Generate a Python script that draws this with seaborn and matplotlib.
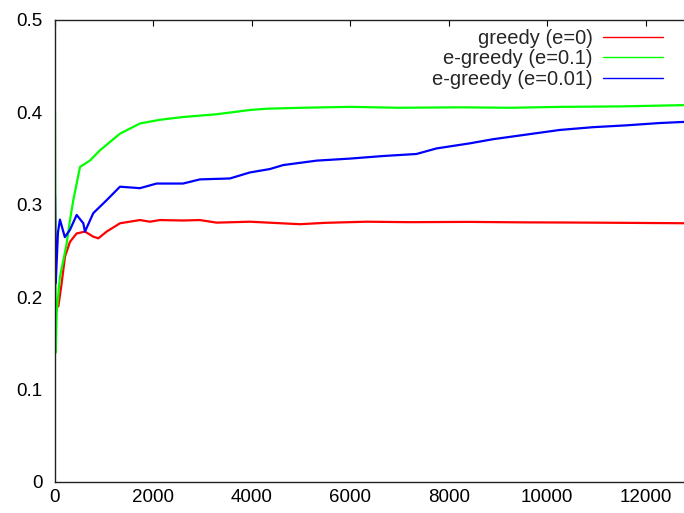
import numpy as np
import pandas as pd
import seaborn as sns
import matplotlib
matplotlib.use('Agg')
import matplotlib.pyplot as plt

# values
greedy_x = [0, 68, 135, 203, 305, 440, 609, 778, 880, 1049, 1320, 1726, 1929,
            2132, 2600, 2944, 3283, 3959, 4975, 5500, 6328, 7200, 8400, 9500,
            10500, 11500, 12900]
greedy_y = [0.19, 0.19, 0.215, 0.244, 0.260, 0.269, 0.271, 0.2655, 0.2637,
            0.271, 0.280, 0.2835, 0.2817, 0.2835, 0.2830, 0.2835, 0.2807,
            0.2817, 0.279, 0.2805, 0.2817, 0.2812, 0.2815, 0.2810, 0.2808,
            0.2805, 0.280]

eps01_x = [0, 15, 34, 100, 170, 237, 305, 372, 508, 711, 914, 1320, 1726,
           2132, 2600, 3283, 3959, 4298, 5000, 5990, 7000, 8223, 9239,
           10300, 11500, 12900]
eps01_y = [0.40, 0.14, 0.183, 0.222, 0.24, 0.258, 0.2835, 0.305, 0.341,
           0.348, 0.359, 0.377, 0.388, 0.392, 0.395, 0.398, 0.4026, 0.404,
           0.405, 0.406, 0.405, 0.4055, 0.405, 0.406, 0.4065, 0.408]

eps001_x = [0, 15, 60, 100, 200, 305, 440, 575, 609, 778, 1049, 1320, 1726,
            2064, 2600, 2944, 3553, 3959, 4365, 4636, 5313, 5990, 6667,
            7343, 7750, 8426, 8900, 9577, 10254, 10930, 11607, 12284, 12900]
eps001_y = [0.31, 0.215, 0.27, 0.284, 0.265, 0.273, 0.289, 0.280, 0.271,
            0.291, 0.305, 0.3196, 0.318, 0.323, 0.323, 0.3275, 0.3285,
            0.335, 0.3387, 0.343, 0.3478, 0.350, 0.3528, 0.355, 0.361,
            0.3665, 0.371, 0.376, 0.381, 0.384, 0.386, 0.3885, 0.390]

labels = ['greedy (e=0)', 'e-greedy (e=0.1)', 'e-greedy (e=0.01)']
colors = ['#ff0000', '#00ff00', '#0000ff']

df = pd.concat([
    pd.DataFrame({'step': greedy_x, 'reward': greedy_y, 'run': labels[0]}),
    pd.DataFrame({'step': eps01_x, 'reward': eps01_y, 'run': labels[1]}),
    pd.DataFrame({'step': eps001_x, 'reward': eps001_y, 'run': labels[2]}),
])

sns.set_style('white')
plt.rcParams['font.family'] = ['Liberation Sans', 'DejaVu Sans']

fig = plt.figure(figsize=(6.84, 5.13), dpi=100)
ax = fig.add_axes([55 / 684, 31 / 513, 635 / 684, 462 / 513])

sns.lineplot(data=df, x='step', y='reward', hue='run', palette=colors,
             estimator=None, sort=False, linewidth=1.6, ax=ax)

ax.set_xlim(0, 12900)
ax.set_ylim(0, 0.5)
ax.set_xticks(range(0, 12001, 2000))
ax.set_yticks([0, 0.1, 0.2, 0.3, 0.4, 0.5])
ax.set_yticklabels(['0', '0.1', '0.2', '0.3', '0.4', '0.5'])
ax.set_xlabel('')
ax.set_ylabel('')
ax.tick_params(direction='in', length=4.5, width=0.8, colors='black',
               labelsize=13.5, top=True, right=True)
ax.tick_params(axis='y', pad=9)
ax.tick_params(axis='x', pad=5)
for s in ax.spines.values():
    s.set_color('#222222')
    s.set_linewidth(1.0)

handles, _ = ax.get_legend_handles_labels()
ax.legend(handles, labels, loc='upper right', frameon=False, markerfirst=False,
          bbox_to_anchor=(663 / 684, 1 - 29 / 513),
          bbox_transform=fig.transFigure, borderpad=0, borderaxespad=0,
          handlelength=3.0, handletextpad=0.5, labelspacing=0.07,
          fontsize=14.5)
for line in ax.get_legend().get_lines():
    line.set_linewidth(1.0)

fig.savefig('out.png', dpi=100)
